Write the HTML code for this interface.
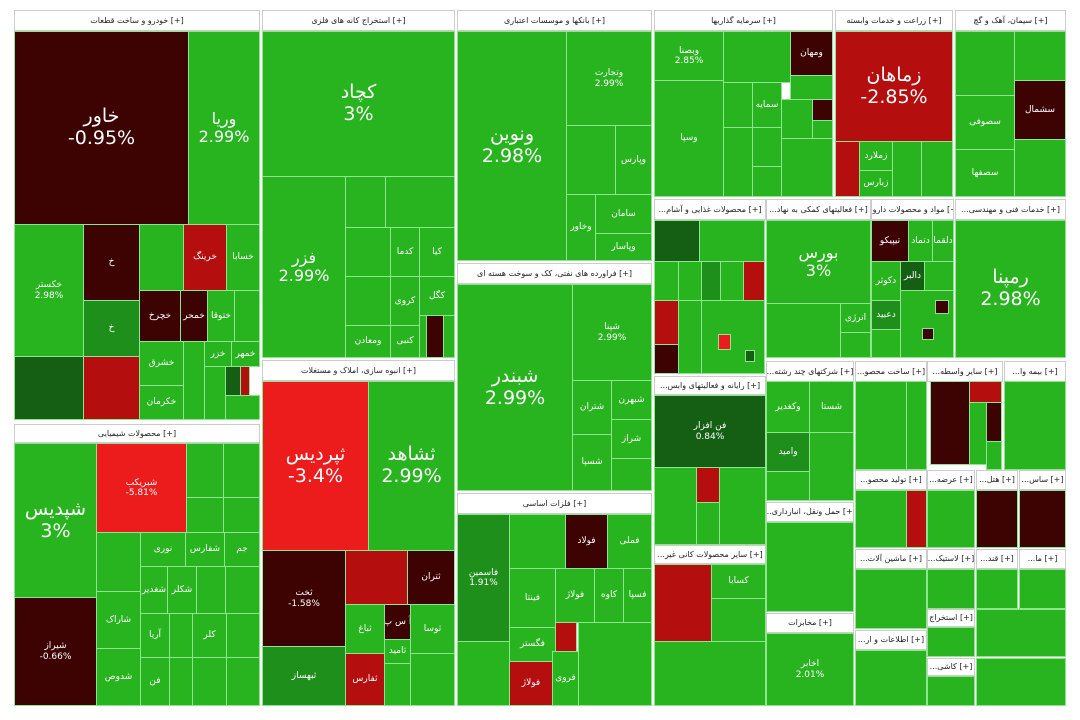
<!DOCTYPE html>
<html><head><meta charset="utf-8"><style>
body{margin:0;width:1080px;height:720px;background:#fff;position:relative;overflow:hidden;font-family:"DejaVu Sans","Liberation Sans",sans-serif;}
div{position:absolute;box-sizing:border-box;color:#fff;text-align:center;overflow:hidden;display:flex;align-items:center;justify-content:center;flex-direction:column;line-height:1.15;font-size:9px;border:1px solid #8fe58f;white-space:nowrap;}
.g{background:#28b41f}.d{background:#145f14}.e{background:#1f8f1c}.m{background:#3d0303}.r{background:#b50e0e}.R{background:#ec1c1c}
.h{background:#fff;color:#222;font-size:8px;border:1px solid #ccc;}
.b{font-size:19px}.c{font-size:16px}
</style></head><body>
<!-- col1 -->
<div class="h" style="left:14px;top:10px;width:246px;height:21px">خودرو و ساخت قطعات [+]</div>
<div class="m b" style="left:14px;top:31px;width:175px;height:194px">خاور<br>-0.95%</div>
<div class="g c" style="left:188px;top:31px;width:72px;height:194px">وریا<br>2.99%</div>
<div class="g" style="left:14px;top:224px;width:70px;height:133px">خکستر<br>2.98%</div>
<div class="m" style="left:83px;top:224px;width:57px;height:77px">خ</div>
<div class="e" style="left:83px;top:300px;width:57px;height:57px">خ</div>
<div class="g" style="left:139px;top:224px;width:45px;height:67px"></div>
<div class="r" style="left:183px;top:224px;width:44px;height:67px">خرینگ</div>
<div class="g" style="left:226px;top:224px;width:34px;height:67px">خسابا</div>
<div class="m" style="left:139px;top:290px;width:42px;height:52px">خچرخ</div>
<div class="m" style="left:180px;top:290px;width:28px;height:52px">خمحر</div>
<div class="g" style="left:207px;top:290px;width:28px;height:52px">ختوقا</div>
<div class="g" style="left:234px;top:290px;width:26px;height:52px"></div>
<div class="g" style="left:139px;top:341px;width:45px;height:45px">خشرق</div>
<div class="g" style="left:139px;top:385px;width:45px;height:35px">خکرمان</div>
<div class="g" style="left:183px;top:341px;width:22px;height:79px"></div>
<div class="g" style="left:204px;top:341px;width:28px;height:26px">خزر</div>
<div class="g" style="left:231px;top:341px;width:29px;height:26px">خمهر</div>
<div class="g" style="left:204px;top:366px;width:22px;height:54px"></div>
<div class="d" style="left:225px;top:366px;width:16px;height:30px"></div>
<div class="r" style="left:240px;top:366px;width:10px;height:30px"></div>
<div class="g" style="left:225px;top:395px;width:35px;height:25px"></div>
<div class="d" style="left:14px;top:356px;width:70px;height:64px"></div>
<div class="r" style="left:83px;top:356px;width:57px;height:64px"></div>
<div class="h" style="left:14px;top:424px;width:246px;height:19px">محصولات شیمیایی [+]</div>
<div class="g b" style="left:14px;top:443px;width:83px;height:155px">شپدیس<br>3%</div>
<div class="m" style="left:14px;top:597px;width:83px;height:109px">شیراز<br>-0.66%</div>
<div class="R" style="left:96px;top:443px;width:91px;height:90px">شبریکب<br>-5.81%</div>
<div class="g" style="left:186px;top:443px;width:38px;height:55px"></div>
<div class="g" style="left:223px;top:443px;width:37px;height:55px"></div>
<div class="g" style="left:186px;top:497px;width:38px;height:40px"></div>
<div class="g" style="left:223px;top:497px;width:37px;height:40px"></div>
<div class="g" style="left:96px;top:532px;width:45px;height:60px"></div>
<div class="g" style="left:140px;top:532px;width:46px;height:35px">نوری</div>
<div class="g" style="left:185px;top:532px;width:40px;height:35px">شفارس</div>
<div class="g" style="left:224px;top:532px;width:36px;height:35px">جم</div>
<div class="g" style="left:96px;top:591px;width:45px;height:58px">شاراک</div>
<div class="g" style="left:96px;top:648px;width:45px;height:58px">شدوص</div>
<div class="g" style="left:140px;top:566px;width:28px;height:48px">شغدیر</div>
<div class="g" style="left:167px;top:566px;width:30px;height:48px">شکلر</div>
<div class="g" style="left:196px;top:566px;width:30px;height:48px"></div>
<div class="g" style="left:225px;top:566px;width:35px;height:48px"></div>
<div class="g" style="left:140px;top:613px;width:30px;height:45px">آریا</div>
<div class="g" style="left:169px;top:613px;width:24px;height:45px"></div>
<div class="g" style="left:192px;top:613px;width:35px;height:45px">کلر</div>
<div class="g" style="left:226px;top:613px;width:34px;height:45px"></div>
<div class="g" style="left:140px;top:657px;width:30px;height:49px">فن</div>
<div class="g" style="left:169px;top:657px;width:24px;height:49px"></div>
<div class="g" style="left:192px;top:657px;width:35px;height:49px"></div>
<div class="g" style="left:226px;top:657px;width:34px;height:49px"></div>
<!-- col2 -->
<div class="h" style="left:262px;top:10px;width:193px;height:21px">استخراج کانه های فلزی [+]</div>
<div class="g b" style="left:262px;top:31px;width:193px;height:146px">کچاد<br>3%</div>
<div class="g c" style="left:262px;top:176px;width:84px;height:182px">فزر<br>2.99%</div>
<div class="g" style="left:345px;top:176px;width:41px;height:52px"></div>
<div class="g" style="left:385px;top:176px;width:70px;height:52px"></div>
<div class="g" style="left:345px;top:227px;width:46px;height:50px"></div>
<div class="g" style="left:390px;top:227px;width:30px;height:50px">کدما</div>
<div class="g" style="left:419px;top:227px;width:36px;height:50px">کیا</div>
<div class="g" style="left:345px;top:276px;width:46px;height:50px"></div>
<div class="g" style="left:390px;top:276px;width:30px;height:50px">کروی</div>
<div class="g" style="left:419px;top:276px;width:36px;height:40px">کگل</div>
<div class="g" style="left:345px;top:325px;width:46px;height:33px">ومعادن</div>
<div class="g" style="left:390px;top:325px;width:30px;height:33px">کنبی</div>
<div class="g" style="left:419px;top:315px;width:8px;height:43px"></div>
<div class="m" style="left:426px;top:315px;width:18px;height:43px"></div>
<div class="g" style="left:443px;top:315px;width:12px;height:43px"></div>
<div class="h" style="left:262px;top:360px;width:193px;height:21px">انبوه سازی، املاک و مستغلات [+]</div>
<div class="R b" style="left:262px;top:381px;width:107px;height:170px">ثپردیس<br>-3.4%</div>
<div class="g b" style="left:368px;top:381px;width:87px;height:170px">ثشاهد<br>2.99%</div>
<div class="m" style="left:262px;top:550px;width:84px;height:97px">ثخت<br>-1.58%</div>
<div class="e" style="left:262px;top:646px;width:84px;height:60px">ثبهساز</div>
<div class="r" style="left:345px;top:550px;width:63px;height:55px"></div>
<div class="m" style="left:407px;top:550px;width:48px;height:55px">ثتران</div>
<div class="g" style="left:345px;top:604px;width:40px;height:50px">ثباغ</div>
<div class="m" style="left:384px;top:604px;width:27px;height:36px">آ س پ</div>
<div class="g" style="left:410px;top:604px;width:45px;height:50px">ثوسا</div>
<div class="g" style="left:384px;top:639px;width:27px;height:25px">ثامید</div>
<div class="r" style="left:345px;top:653px;width:40px;height:53px">ثفارس</div>
<div class="g" style="left:384px;top:663px;width:27px;height:43px"></div>
<div class="g" style="left:410px;top:653px;width:45px;height:53px"></div>
<!-- col3 -->
<div class="h" style="left:457px;top:10px;width:195px;height:21px">بانکها و موسسات اعتباری [+]</div>
<div class="g b" style="left:457px;top:31px;width:110px;height:230px">ونوین<br>2.98%</div>
<div class="g" style="left:566px;top:31px;width:86px;height:95px">وتجارت<br>2.99%</div>
<div class="g" style="left:566px;top:125px;width:50px;height:70px"></div>
<div class="g" style="left:615px;top:125px;width:37px;height:70px">وپارس</div>
<div class="g" style="left:566px;top:194px;width:30px;height:67px">وخاور</div>
<div class="g" style="left:595px;top:194px;width:57px;height:40px">سامان</div>
<div class="g" style="left:595px;top:233px;width:57px;height:28px">وپاسار</div>
<div class="h" style="left:457px;top:263px;width:195px;height:21px">فراورده های نفتی، کک و سوخت هسته ای [+]</div>
<div class="g b" style="left:457px;top:284px;width:116px;height:207px">شبندر<br>2.99%</div>
<div class="g" style="left:572px;top:284px;width:80px;height:97px">شپنا<br>2.99%</div>
<div class="g" style="left:572px;top:380px;width:40px;height:55px">شتران</div>
<div class="g" style="left:611px;top:380px;width:41px;height:40px">شبهرن</div>
<div class="g" style="left:572px;top:434px;width:40px;height:57px">شسپا</div>
<div class="g" style="left:611px;top:419px;width:41px;height:40px">شراز</div>
<div class="g" style="left:611px;top:458px;width:41px;height:33px"></div>
<div class="h" style="left:457px;top:493px;width:195px;height:21px">فلزات اساسی [+]</div>
<div class="e" style="left:457px;top:514px;width:53px;height:128px">فاسمین<br>1.91%</div>
<div class="g" style="left:457px;top:641px;width:53px;height:65px"></div>
<div class="g" style="left:509px;top:514px;width:57px;height:55px"></div>
<div class="m" style="left:565px;top:514px;width:43px;height:55px">فولاد</div>
<div class="g" style="left:607px;top:514px;width:45px;height:55px">فملی</div>
<div class="g" style="left:509px;top:568px;width:47px;height:60px">فینتا</div>
<div class="g" style="left:555px;top:568px;width:40px;height:55px">فولاژ</div>
<div class="g" style="left:594px;top:568px;width:30px;height:55px">کاوه</div>
<div class="g" style="left:623px;top:568px;width:29px;height:55px">فسپا</div>
<div class="g" style="left:509px;top:627px;width:47px;height:35px">فگستر</div>
<div class="r" style="left:509px;top:661px;width:44px;height:45px">فولاژ</div>
<div class="r" style="left:555px;top:622px;width:22px;height:30px"></div>
<div class="g" style="left:552px;top:651px;width:27px;height:55px">فروی</div>
<div class="g" style="left:578px;top:622px;width:74px;height:84px"></div>
<!-- col4 -->
<div class="h" style="left:654px;top:10px;width:179px;height:21px">سرمایه گذاریها [+]</div>
<div class="g" style="left:654px;top:31px;width:70px;height:50px">وبصنا<br>2.85%</div>
<div class="g" style="left:654px;top:80px;width:70px;height:117px">وسپا</div>
<div class="g" style="left:723px;top:31px;width:68px;height:52px"></div>
<div class="m" style="left:790px;top:31px;width:43px;height:45px">ومهان</div>
<div class="g" style="left:790px;top:75px;width:43px;height:25px"></div>
<div class="g" style="left:723px;top:82px;width:30px;height:46px"></div>
<div class="g" style="left:752px;top:82px;width:30px;height:46px">سمایه</div>
<div class="g" style="left:781px;top:99px;width:32px;height:40px"></div>
<div class="m" style="left:812px;top:99px;width:21px;height:22px"></div>
<div class="g" style="left:812px;top:120px;width:21px;height:19px"></div>
<div class="g" style="left:723px;top:127px;width:30px;height:70px"></div>
<div class="g" style="left:752px;top:127px;width:30px;height:40px"></div>
<div class="g" style="left:752px;top:166px;width:30px;height:31px"></div>
<div class="g" style="left:781px;top:138px;width:52px;height:59px"></div>
<!-- col5 -->
<div class="h" style="left:835px;top:10px;width:118px;height:21px">زراعت و خدمات وابسته [+]</div>
<div class="r b" style="left:835px;top:31px;width:118px;height:111px">زماهان<br>-2.85%</div>
<div class="r" style="left:835px;top:141px;width:25px;height:56px"></div>
<div class="g" style="left:859px;top:141px;width:34px;height:30px">زملارد</div>
<div class="g" style="left:859px;top:170px;width:34px;height:27px">زبارس</div>
<div class="g" style="left:892px;top:141px;width:30px;height:56px"></div>
<div class="g" style="left:921px;top:141px;width:32px;height:56px"></div>
<!-- col6 -->
<div class="h" style="left:955px;top:10px;width:111px;height:21px">سیمان، آهک و گچ [+]</div>
<div class="g" style="left:955px;top:31px;width:60px;height:65px"></div>
<div class="g" style="left:1014px;top:31px;width:52px;height:50px"></div>
<div class="g" style="left:955px;top:95px;width:60px;height:55px">سصوفی</div>
<div class="m" style="left:1014px;top:80px;width:52px;height:60px">سشمال</div>
<div class="g" style="left:955px;top:149px;width:60px;height:48px">سصفها</div>
<div class="g" style="left:1014px;top:139px;width:52px;height:58px"></div>
<!-- row 2 headers -->
<div class="h" style="left:654px;top:199px;width:112px;height:21px">...محصولات غذایی و آشام [+]</div>
<div class="h" style="left:766px;top:199px;width:105px;height:21px">...فعالیتهای کمکی به نهاد [+]</div>
<div class="h" style="left:871px;top:199px;width:83px;height:21px">...مواد و محصولات دارو [+]</div>
<div class="h" style="left:955px;top:199px;width:111px;height:21px">...خدمات فنی و مهندسی [+]</div>
<div class="d" style="left:654px;top:220px;width:46px;height:42px"></div>
<div class="g" style="left:699px;top:220px;width:66px;height:42px"></div>
<div class="g" style="left:654px;top:261px;width:25px;height:40px"></div>
<div class="g" style="left:678px;top:261px;width:24px;height:40px"></div>
<div class="e" style="left:701px;top:261px;width:20px;height:40px"></div>
<div class="g" style="left:720px;top:261px;width:24px;height:40px"></div>
<div class="r" style="left:743px;top:261px;width:22px;height:40px"></div>
<div class="r" style="left:654px;top:300px;width:25px;height:45px"></div>
<div class="m" style="left:654px;top:344px;width:25px;height:30px"></div>
<div class="g" style="left:678px;top:300px;width:24px;height:74px"></div>
<div class="g" style="left:701px;top:300px;width:64px;height:74px"></div>
<div class="R" style="left:718px;top:334px;width:13px;height:16px"></div>
<div class="d" style="left:745px;top:350px;width:10px;height:12px"></div>
<div class="g c" style="left:766px;top:220px;width:105px;height:84px">بورس<br>3%</div>
<div class="g" style="left:766px;top:303px;width:75px;height:55px"></div>
<div class="g" style="left:840px;top:303px;width:31px;height:30px">انرژی</div>
<div class="g" style="left:840px;top:332px;width:31px;height:26px"></div>
<div class="m" style="left:871px;top:220px;width:38px;height:42px">تیپیکو</div>
<div class="g" style="left:908px;top:220px;width:25px;height:42px">دتماد</div>
<div class="g" style="left:932px;top:220px;width:22px;height:42px">دلقما</div>
<div class="g" style="left:871px;top:261px;width:30px;height:40px">دکوثر</div>
<div class="d" style="left:900px;top:261px;width:25px;height:30px">دالبر</div>
<div class="g" style="left:924px;top:261px;width:30px;height:30px"></div>
<div class="e" style="left:871px;top:300px;width:30px;height:30px">دعبید</div>
<div class="g" style="left:871px;top:329px;width:30px;height:29px"></div>
<div class="g" style="left:900px;top:290px;width:54px;height:68px"></div>
<div class="m" style="left:935px;top:300px;width:14px;height:14px"></div>
<div class="m" style="left:922px;top:328px;width:12px;height:12px"></div>
<div class="g b" style="left:955px;top:220px;width:111px;height:138px">رمپنا<br>2.98%</div>
<!-- row 3 -->
<div class="h" style="left:654px;top:376px;width:112px;height:19px">...رایانه و فعالیتهای وابس [+]</div>
<div class="d" style="left:654px;top:395px;width:112px;height:73px">فن افزار<br>0.84%</div>
<div class="g" style="left:654px;top:467px;width:43px;height:78px"></div>
<div class="r" style="left:696px;top:467px;width:24px;height:36px"></div>
<div class="g" style="left:696px;top:502px;width:24px;height:43px"></div>
<div class="g" style="left:719px;top:467px;width:47px;height:78px"></div>
<div class="h" style="left:654px;top:545px;width:112px;height:19px">...سایر محصولات کانی غیر [+]</div>
<div class="r" style="left:654px;top:564px;width:58px;height:78px"></div>
<div class="g" style="left:711px;top:564px;width:55px;height:35px">کسابا</div>
<div class="g" style="left:711px;top:598px;width:55px;height:44px"></div>
<div class="g" style="left:654px;top:641px;width:112px;height:65px"></div>
<div class="h" style="left:766px;top:361px;width:88px;height:21px">...شرکتهای چند رشته [+]</div>
<div class="g" style="left:766px;top:381px;width:44px;height:52px">وکغدیر</div>
<div class="g" style="left:809px;top:381px;width:45px;height:52px">شستا</div>
<div class="e" style="left:766px;top:432px;width:44px;height:40px">وامید</div>
<div class="g" style="left:766px;top:471px;width:44px;height:30px"></div>
<div class="g" style="left:809px;top:432px;width:45px;height:69px"></div>
<div class="h" style="left:766px;top:502px;width:88px;height:20px">...حمل ونقل، انبارداری [+]</div>
<div class="g" style="left:766px;top:522px;width:88px;height:90px"></div>
<div class="h" style="left:766px;top:613px;width:88px;height:20px">مخابرات [+]</div>
<div class="g" style="left:766px;top:633px;width:88px;height:73px">اخابر<br>2.01%</div>
<div class="h" style="left:855px;top:361px;width:72px;height:21px">...ساخت محصو [+]</div>
<div class="g" style="left:855px;top:381px;width:52px;height:89px"></div>
<div class="g" style="left:906px;top:381px;width:21px;height:89px"></div>
<div class="h" style="left:927px;top:361px;width:76px;height:21px">...سایر واسطه [+]</div>
<div class="m" style="left:930px;top:381px;width:40px;height:84px"></div>
<div class="r" style="left:969px;top:381px;width:33px;height:22px"></div>
<div class="g" style="left:969px;top:402px;width:18px;height:63px"></div>
<div class="m" style="left:986px;top:402px;width:16px;height:40px"></div>
<div class="g" style="left:986px;top:441px;width:16px;height:29px"></div>
<div class="h" style="left:1004px;top:361px;width:62px;height:21px">...بیمه وا [+]</div>
<div class="g" style="left:1004px;top:381px;width:62px;height:89px"></div>
<div class="h" style="left:855px;top:470px;width:72px;height:20px">...تولید محصو [+]</div>
<div class="g" style="left:855px;top:490px;width:52px;height:58px"></div>
<div class="r" style="left:906px;top:490px;width:21px;height:58px"></div>
<div class="h" style="left:927px;top:470px;width:48px;height:20px">...عرضه [+]</div>
<div class="g" style="left:927px;top:490px;width:48px;height:58px"></div>
<div class="h" style="left:976px;top:470px;width:42px;height:20px">...هتل [+]</div>
<div class="m" style="left:976px;top:490px;width:42px;height:58px"></div>
<div class="h" style="left:1019px;top:470px;width:47px;height:20px">...ساس [+]</div>
<div class="m" style="left:1019px;top:490px;width:47px;height:58px"></div>
<div class="h" style="left:855px;top:549px;width:72px;height:20px">...ماشین آلات [+]</div>
<div class="g" style="left:855px;top:569px;width:72px;height:60px"></div>
<div class="h" style="left:927px;top:549px;width:48px;height:20px">...لاستیک [+]</div>
<div class="g" style="left:927px;top:569px;width:48px;height:40px"></div>
<div class="h" style="left:976px;top:549px;width:42px;height:20px">...قند [+]</div>
<div class="g" style="left:976px;top:569px;width:42px;height:40px"></div>
<div class="h" style="left:1019px;top:549px;width:47px;height:20px">...ما [+]</div>
<div class="g" style="left:1019px;top:569px;width:47px;height:40px"></div>
<div class="h" style="left:927px;top:609px;width:48px;height:18px">استخراج [+]</div>
<div class="g" style="left:927px;top:627px;width:48px;height:30px"></div>
<div class="g" style="left:976px;top:609px;width:90px;height:48px"></div>
<div class="h" style="left:855px;top:630px;width:72px;height:20px">...اطلاعات و ار [+]</div>
<div class="g" style="left:855px;top:650px;width:72px;height:56px"></div>
<div class="h" style="left:927px;top:658px;width:48px;height:18px">...کاشی [+]</div>
<div class="g" style="left:927px;top:676px;width:48px;height:30px"></div>
<div class="g" style="left:976px;top:658px;width:90px;height:48px"></div>
</body></html>
